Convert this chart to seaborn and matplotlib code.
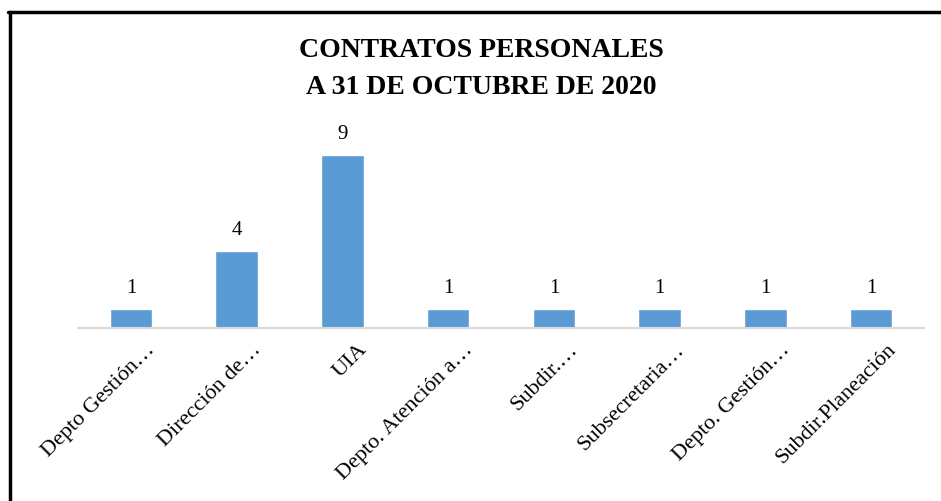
import matplotlib
matplotlib.use('Agg')
import matplotlib.pyplot as plt
import matplotlib.transforms as mtransforms
from matplotlib.lines import Line2D
import pandas as pd
import seaborn as sns

categorias = ['Depto Gestión…', 'Dirección de…', 'UIA', 'Depto. Atención a…',
              'Subdir.…', 'Subsecretaria…', 'Depto. Gestión…', 'Subdir.Planeación']
contratos = [1, 4, 9, 1, 1, 1, 1, 1]
titulo = 'CONTRATOS PERSONALES\nA 31 DE OCTUBRE DE 2020'

sns.set_theme(style='white')
plt.rcParams['font.family'] = ['Liberation Serif', 'DejaVu Serif']
plt.rcParams['text.color'] = 'black'
plt.rcParams['xtick.color'] = 'black'

df = pd.DataFrame({'area': categorias, 'n': contratos})

fig = plt.figure(figsize=(9.41, 5.01), dpi=100)
ax = fig.add_axes([78 / 941, 173 / 501, 846 / 941, 192 / 501])
sns.barplot(data=df, x='area', y='n', color='#5b9bd5', saturation=1,
            width=0.4, ax=ax)
ax.set_ylim(0, 10)
ax.set_xlim(-0.5, len(categorias) - 0.5)
ax.bar_label(ax.containers[0], fontsize=15, padding=8, color='black')

ax.set_xlabel('')
ax.set_ylabel('')
ax.set_yticks([])
for s in ['top', 'right', 'left']:
    ax.spines[s].set_visible(False)
ax.spines['bottom'].set_color('#d9d9d9')
ax.spines['bottom'].set_linewidth(1.5)
ax.tick_params(axis='x', length=0, pad=9, labelsize=16)
ax.set_xticks(range(len(categorias)))
ax.set_xticklabels(categorias, rotation=45, ha='right', rotation_mode='anchor')
off = mtransforms.ScaledTranslation(0.15, 0, fig.dpi_scale_trans)
for lbl in ax.get_xticklabels():
    lbl.set_transform(lbl.get_transform() + off)

fig.text(481 / 941, 1 - 69 / 501, titulo, ha='center', va='center',
         fontsize=20, fontweight='bold', linespacing=1.65, color='black')

# borde del area del grafico
fig.add_artist(Line2D([9.5 / 941, 9.5 / 941], [0, 1 - 11.5 / 501],
                      transform=fig.transFigure, color='black', lw=2.5))
fig.add_artist(Line2D([8 / 941, 1], [1 - 11.5 / 501, 1 - 11.5 / 501],
                      transform=fig.transFigure, color='black', lw=2.5))

fig.savefig('out.png', dpi=100)
